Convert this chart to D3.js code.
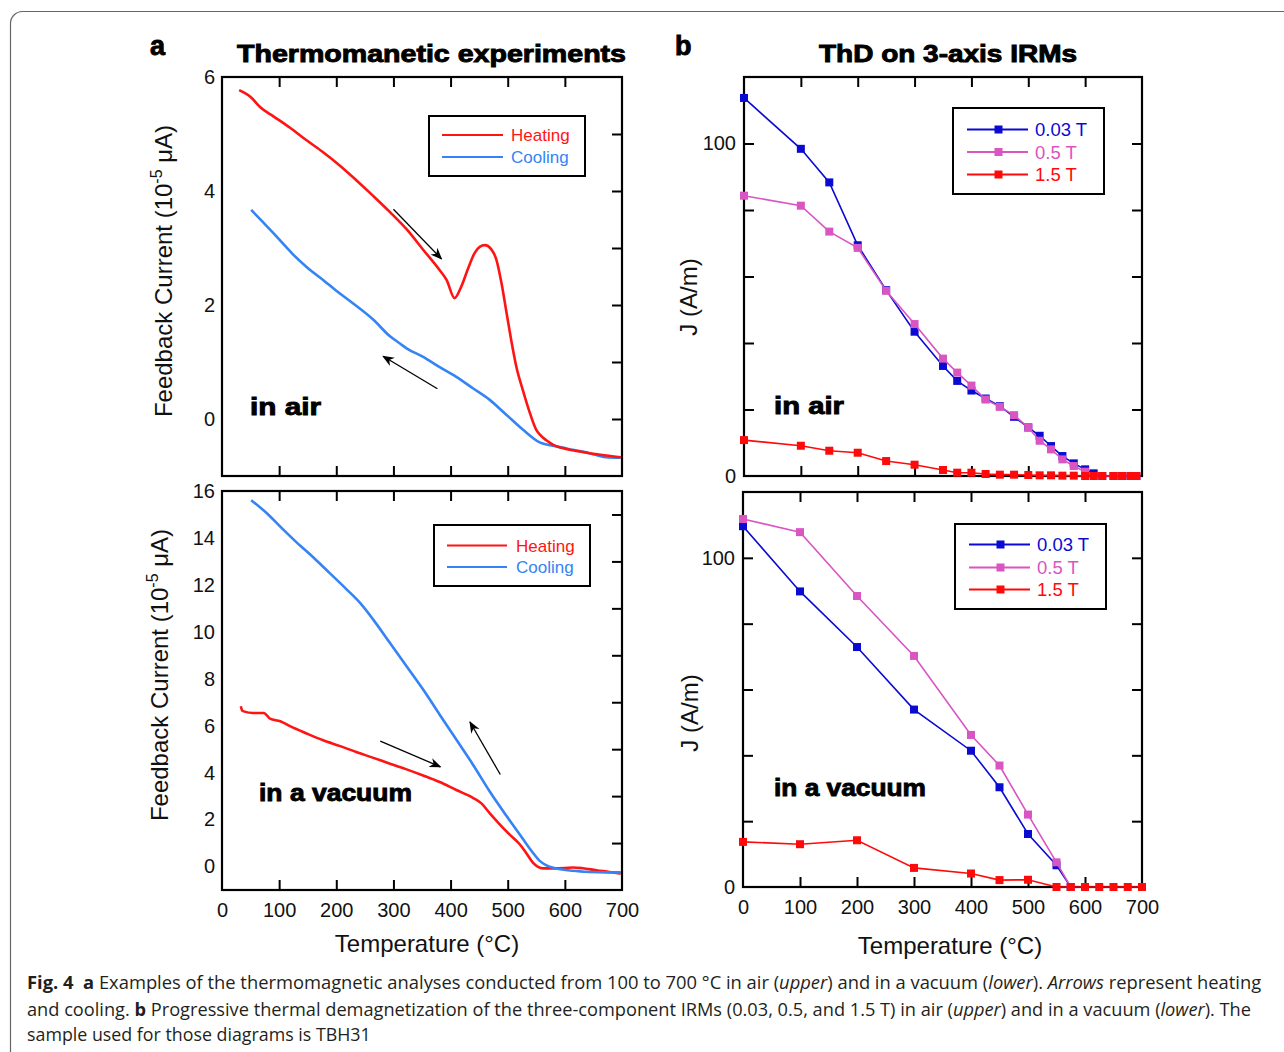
<!DOCTYPE html>
<html><head><meta charset="utf-8">
<script src="https://cdn.jsdelivr.net/npm/d3@7"></script>
<style>body{margin:0;background:#fff}svg{display:block}</style>
</head><body><svg id="c" width="1284" height="1052"></svg>
<script>
// ---------------- DATA ----------------
const tempTicks = [0,100,200,300,400,500,600,700];
const airYTickLabels = [0,2,4,6];
const vacYTickLabels = [0,2,4,6,8,10,12,14,16];
const irmYTickLabels = [0,100];

// (a) in air
const airHeatT = [30,50,67,90,119,148,177,207,236,265,294,323,352,381,393,407,419,431,442,451,460,471,480,489,498,506,515,527,538,550,556,567,579,596,614,643,672,698];
const airHeatV = [5.77,5.65,5.47,5.31,5.11,4.89,4.68,4.44,4.18,3.91,3.63,3.33,2.97,2.61,2.44,2.12,2.33,2.65,2.91,3.02,3.05,2.98,2.80,2.39,1.86,1.39,0.92,0.49,0.13,-0.19,-0.27,-0.37,-0.45,-0.51,-0.55,-0.60,-0.64,-0.67];
const airCoolT = [51,70,90,110,125,150,178,200,225,265,294,312,323,352,381,410,439,468,497,527,556,585,614,643,672,698];
const airCoolV = [3.67,3.47,3.26,3.04,2.88,2.65,2.43,2.25,2.06,1.74,1.45,1.32,1.24,1.09,0.91,0.74,0.54,0.34,0.08,-0.19,-0.41,-0.48,-0.54,-0.60,-0.67,-0.68];

// (a) in a vacuum
const vacHeatT = [33,35,38,55,73,79,84,102,119,148,177,207,236,265,294,323,352,381,410,439,454,468,486,503,521,532,544,553,562,585,614,631,655,678,698];
const vacHeatV = [6.83,6.66,6.61,6.54,6.54,6.43,6.30,6.19,5.98,5.67,5.38,5.13,4.87,4.63,4.38,4.14,3.88,3.60,3.26,2.93,2.69,2.29,1.80,1.37,0.95,0.59,0.17,-0.01,-0.08,-0.08,-0.04,-0.07,-0.16,-0.23,-0.30];
const vacCoolT = [51,79,102,131,160,189,218,242,265,294,323,352,381,410,439,468,498,527,544,556,567,585,614,643,672,698];
const vacCoolV = [15.61,15.04,14.48,13.80,13.17,12.49,11.81,11.22,10.51,9.52,8.53,7.54,6.47,5.41,4.35,3.22,2.15,1.16,0.59,0.24,0.06,-0.08,-0.18,-0.23,-0.25,-0.25];

// (b) IRM thermal demagnetization, in air
const irmAirT = [0,100,150,200,250,300,350,375,400,425,450,475,500,520,540,560,580,600,615,630,650,665,680,690];
const irmAir003 = [113.7,98.4,88.3,69.4,55.9,43.4,33.1,28.6,25.7,23.3,21.0,17.8,14.6,12.1,9.0,6.0,3.8,2.0,0.8,0,0,0,0,0];
const irmAir05  = [84.3,81.3,73.5,68.6,55.7,45.7,35.3,31.1,27.2,23.0,20.8,18.3,14.6,10.6,8.0,5.0,3.0,1.3,0,0,0,0,0,0];
const irmAir15  = [10.8,9.1,7.6,7.0,4.5,3.4,1.8,1.0,1.0,0.6,0.4,0.4,0.3,0.2,0.2,0.1,0.1,0,0,0,0,0,0,0];

// (b) in a vacuum
const irmVacT = [0,100,200,300,400,450,500,550,575,600,625,650,675,700];
const irmVac003 = [109.6,89.8,72.9,53.9,41.4,30.3,16.1,6.6,0,null,null,null,null,null];
const irmVac05  = [111.8,107.8,88.4,70.2,46.2,36.9,22.0,7.5,0,null,null,null,null,null];
const irmVac15  = [13.7,13.0,14.2,5.8,4.1,2.1,2.2,0,0,0,0,0,0,0];

const curveNames = ["Heating","Cooling"];
const fieldNames = ["0.03 T","0.5 T","1.5 T"];

// arrows (data coords)
const airArrows = [[300,3.68,384,2.81],[377,0.53,282,1.10]];
const vacArrows = [[277,5.34,382,4.25],[487,3.92,434,6.16]];

// ---------------- STYLE ----------------
const C_HEAT = "#ff1414", C_COOL = "#3583f5";
const C_B = "#0a0ad2", C_P = "#d955c2", C_R = "#ff0a0a";
const FONT = "'Liberation Sans', Arial, Helvetica, sans-serif";

const svg = d3.select("#c");
svg.append("rect").attr("width",1284).attr("height",1052).attr("fill","#fff");
svg.append("rect").attr("x",10.5).attr("y",11.5).attr("width",1320).attr("height",1100)
  .attr("rx",12).attr("fill","none").attr("stroke","#666").attr("stroke-width",1.2);

const defs = svg.append("defs");
defs.append("marker").attr("id","ah").attr("viewBox","0 0 10 10").attr("refX",9).attr("refY",5)
  .attr("markerWidth",12).attr("markerHeight",12).attr("markerUnits","userSpaceOnUse").attr("orient","auto")
  .append("path").attr("d","M0,1 L10,5 L0,9 L3,5 Z").attr("fill","#000");

function panel(o){
  const x = d3.scaleLinear().domain([0,700]).range([o.x0,o.x1]);
  const y = d3.scaleLinear().domain(o.yd).range([o.y1,o.y0]);
  const g = svg.append("g");
  const tk = (sel)=>{sel.select(".domain").remove(); sel.selectAll(".tick line").attr("stroke","#000").attr("stroke-width",2);
    sel.selectAll("text").attr("font-family",FONT).attr("font-size",20).attr("fill","#111");};
  g.append("g").attr("transform",`translate(0,${o.y1})`)
    .call(d3.axisBottom(x).tickValues(tempTicks).tickSize(-10).tickPadding(13).tickFormat(o.xlabels? d3.format("d"):""))
    .call(tk);
  g.selectAll(".tick").filter(d=>d===0||d===700).select("line").remove();
  g.append("g").attr("transform",`translate(0,${o.y0})`)
    .call(d3.axisTop(x).tickValues(tempTicks.filter(d=>d>0&&d<700)).tickSize(-10).tickFormat("")).call(tk);
  const yt = d3.range(o.yd[0]+o.ystep, o.yd[1], o.ystep);
  g.append("g").attr("transform",`translate(${o.x1},0)`)
    .call(d3.axisRight(y).tickValues(yt).tickSize(-10).tickFormat("")).call(tk);
  const la = g.append("g").attr("transform",`translate(${o.x0},0)`)
    .call(d3.axisLeft(y).tickValues(o.leftTicks? yt.concat([o.yd[0]]) : o.ylabels).tickSize(o.leftTicks?-10:0).tickPadding(o.leftTicks?8:7)
      .tickFormat(d=>o.ylabels.includes(d)? d : "")).call(tk);
  if(!o.leftTicks) la.selectAll(".tick line").remove();
  la.selectAll(".tick").filter(d=>d===o.yd[0]).select("line").remove();
  g.append("rect").attr("x",o.x0).attr("y",o.y0).attr("width",o.x1-o.x0).attr("height",o.y1-o.y0)
    .attr("fill","none").attr("stroke","#000").attr("stroke-width",2.2);
  return {x,y,g};
}

function curve(p, T, V, color){
  const pts = T.map((t,i)=>[t,V[i]]);
  p.g.append("path").attr("d", d3.line().x(d=>p.x(d[0])).y(d=>p.y(d[1])).curve(d3.curveMonotoneX)(pts))
    .attr("fill","none").attr("stroke",color).attr("stroke-width",2.6).attr("stroke-linejoin","round");
}
function series(p, T, V, color){
  const pts = T.map((t,i)=>[t,V[i]]).filter(d=>d[1]!==null);
  p.g.append("path").attr("d", d3.line().x(d=>p.x(d[0])).y(d=>p.y(d[1]))(pts))
    .attr("fill","none").attr("stroke",color).attr("stroke-width",1.6);
  p.g.selectAll(null).data(pts).enter().append("rect")
    .attr("x",d=>p.x(d[0])-4).attr("y",d=>p.y(d[1])-4).attr("width",8).attr("height",8).attr("fill",color);
}
function arrows(p, arr){
  arr.forEach(a=>{
    p.g.append("line").attr("x1",p.x(a[0])).attr("y1",p.y(a[1])).attr("x2",p.x(a[2])).attr("y2",p.y(a[3]))
      .attr("stroke","#000").attr("stroke-width",1.3).attr("marker-end","url(#ah)");
  });
}
function heavy(x,y,txt,size,len,anchor){
  const t = svg.append("text").attr("x",x).attr("y",y).text(txt).attr("font-family",FONT)
    .attr("font-weight","bold").attr("font-size",size).attr("fill","#000").attr("stroke","#000").attr("stroke-width",0.9);
  if(len) t.attr("textLength",len).attr("lengthAdjust","spacingAndGlyphs");
  if(anchor) t.attr("text-anchor",anchor);
  return t;
}
function legendLines(x0,y0,w,h,lx0,lx1,tx,rows,withMarker){
  svg.append("rect").attr("x",x0).attr("y",y0).attr("width",w).attr("height",h)
    .attr("fill","#fff").attr("stroke","#000").attr("stroke-width",2);
  rows.forEach(r=>{
    svg.append("line").attr("x1",lx0).attr("x2",lx1).attr("y1",r.y).attr("y2",r.y)
      .attr("stroke",r.c).attr("stroke-width",withMarker?1.8:2.2);
    if(withMarker) svg.append("rect").attr("x",(lx0+lx1)/2-4+1).attr("y",r.y-4).attr("width",8).attr("height",8).attr("fill",r.c);
    svg.append("text").attr("x",tx).attr("y",r.y).attr("dy","0.36em").text(r.t)
      .attr("font-family",FONT).attr("font-size",withMarker?18.5:17).attr("fill",r.c);
  });
}
function yTitle(x,y,parts){
  const t = svg.append("text").attr("transform",`translate(${x},${y}) rotate(-90)`).attr("text-anchor","middle")
    .attr("font-family",FONT).attr("font-size",24).attr("fill","#111");
  if(typeof parts==="string"){ t.text(parts); return; }
  t.append("tspan").text("Feedback Current (10");
  t.append("tspan").attr("dy",-10).attr("font-size",16).text("-5");
  t.append("tspan").attr("dy",10).text(" μA)");
}

// ---------------- PANELS ----------------
const pA1 = panel({x0:222,x1:622,y0:77,y1:476,yd:[-1,6],ystep:1,ylabels:airYTickLabels,xlabels:false,leftTicks:false});
curve(pA1, airCoolT, airCoolV, C_COOL);
curve(pA1, airHeatT, airHeatV, C_HEAT);
arrows(pA1, airArrows);

const pA2 = panel({x0:222,x1:622,y0:491,y1:890,yd:[-1,16],ystep:2,ylabels:vacYTickLabels,xlabels:true,leftTicks:false});
curve(pA2, vacHeatT, vacHeatV, C_HEAT);
curve(pA2, vacCoolT, vacCoolV, C_COOL);
arrows(pA2, vacArrows);

const pB1 = panel({x0:744,x1:1142,y0:77,y1:476,yd:[0,120],ystep:20,ylabels:irmYTickLabels,xlabels:false,leftTicks:true});
series(pB1, irmAirT, irmAir003, C_B);
series(pB1, irmAirT, irmAir05, C_P);
series(pB1, irmAirT, irmAir15, C_R);

const pB2 = panel({x0:743,x1:1142,y0:492,y1:887,yd:[0,120],ystep:20,ylabels:irmYTickLabels,xlabels:true,leftTicks:true});
series(pB2, irmVacT, irmVac003, C_B);
series(pB2, irmVacT, irmVac05, C_P);
series(pB2, irmVacT, irmVac15, C_R);

// legends
legendLines(429,116,156,60,442,503,511,[{y:135,c:C_HEAT,t:curveNames[0]},{y:157,c:C_COOL,t:curveNames[1]}],false);
legendLines(434,525,156,61,447,507,516,[{y:545.5,c:C_HEAT,t:curveNames[0]},{y:567,c:C_COOL,t:curveNames[1]}],false);
legendLines(953,108,151,86,967,1028,1035,[{y:129.5,c:C_B,t:fieldNames[0]},{y:152,c:C_P,t:fieldNames[1]},{y:174.5,c:C_R,t:fieldNames[2]}],true);
legendLines(955,524,151,85,969,1030,1037,[{y:544.5,c:C_B,t:fieldNames[0]},{y:567.5,c:C_P,t:fieldNames[1]},{y:589.5,c:C_R,t:fieldNames[2]}],true);

// titles & labels
heavy(150,55,"a",27);
heavy(675,55,"b",27);
heavy(237,62,"Thermomanetic experiments",23,389);
heavy(819,62,"ThD on 3-axis IRMs",23,258);
heavy(250,415,"in air",24,71);
heavy(259,801,"in a vacuum",24,153);
heavy(774,414,"in air",24,70);
heavy(774,796,"in a vacuum",24,152);

yTitle(172,271,null);
yTitle(168,675,null);
yTitle(697,297,"J (A/m)");
yTitle(698,713,"J (A/m)");

svg.append("text").attr("x",427).attr("y",952).attr("text-anchor","middle").attr("font-family",FONT)
  .attr("font-size",24).attr("fill","#111").text("Temperature (°C)");
svg.append("text").attr("x",950).attr("y",954).attr("text-anchor","middle").attr("font-family",FONT)
  .attr("font-size",24).attr("fill","#111").text("Temperature (°C)");

// caption
const CAP = "'Open Sans', 'Noto Sans', sans-serif";
const capLines = [
  {y:989, len:1235, parts:[["Fig. 4  ","b"],["a","b"],[" Examples of the thermomagnetic analyses conducted from 100 to 700 °C in air (",""],["upper","i"],[") and in a vacuum (",""],["lower","i"],["). ",""],["Arrows","i"],[" represent heating",""]]},
  {y:1015.5, len:1225, parts:[["and cooling. ",""],["b","b"],[" Progressive thermal demagnetization of the three-component IRMs (0.03, 0.5, and 1.5 T) in air (",""],["upper","i"],[") and in a vacuum (",""],["lower","i"],["). The",""]]},
  {y:1041, len:344, parts:[["sample used for those diagrams is TBH31",""]]}
];
capLines.forEach(l=>{
  const t = svg.append("text").attr("x",27).attr("y",l.y).attr("font-family",CAP).attr("font-size",18)
    .attr("fill","#231f20").attr("xml:space","preserve");
  l.parts.forEach(p=>{
    const s = t.append("tspan").text(p[0]);
    if(p[1]==="b") s.attr("font-weight","bold");
    if(p[1]==="i") s.attr("font-style","italic");
  });
  const w = t.node().getComputedTextLength();
  t.attr("font-size", Math.min(19, 18*l.len/w));
});
</script></body></html>
